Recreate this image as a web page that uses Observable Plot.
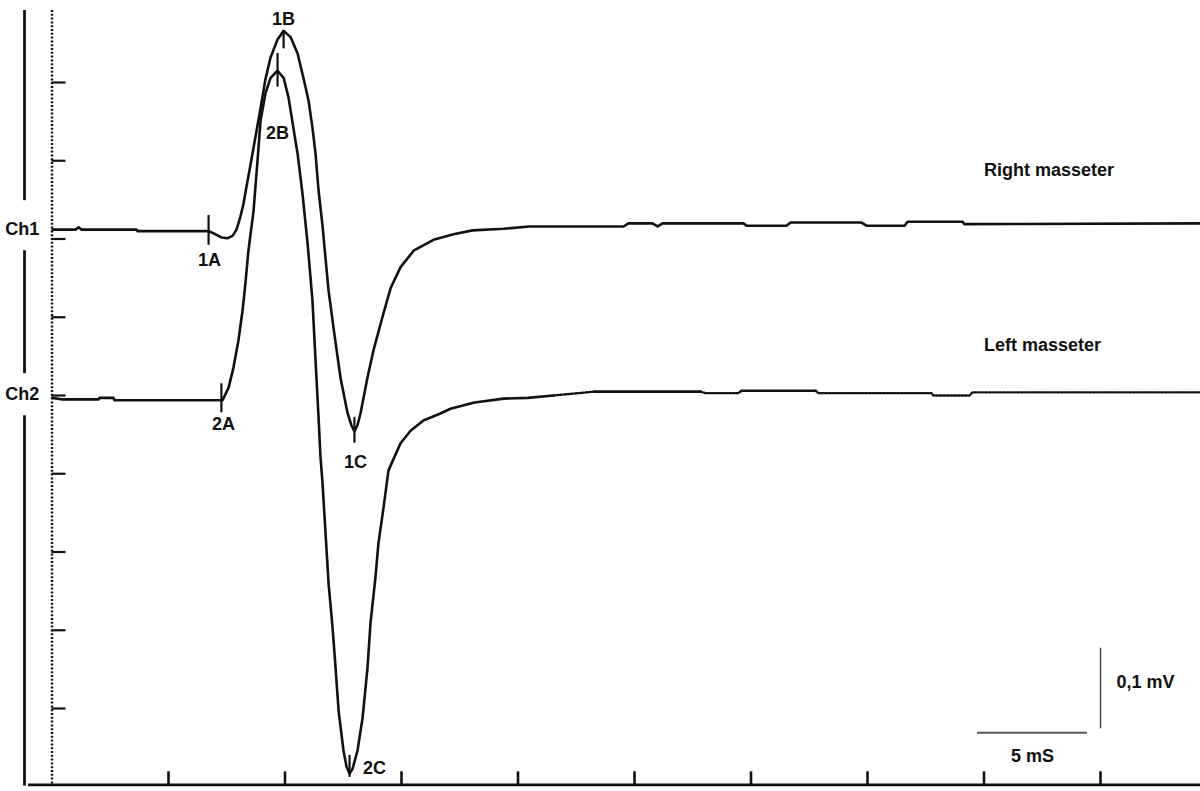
<!DOCTYPE html>
<html>
<head>
<meta charset="utf-8">
<script src="https://cdn.jsdelivr.net/npm/d3@7"></script>
<script src="https://cdn.jsdelivr.net/npm/@observablehq/plot@0.6"></script>
<style>
  html, body { margin: 0; padding: 0; background: #fff; }
  svg { display: block; }
</style>
</head>
<body>
<div id="chart"></div>
<script>
// ---------- DATA (time in ms, amplitude in mV) ----------
const channelLabels = ["Ch1", "Ch2"];
const seriesNames = ["Right masseter", "Left masseter"];

// Ch1 – Right masseter
const ch1Time = [0.02, 1.01, 1.14, 1.27, 3.63, 3.67, 6.72, 7.02, 7.27, 7.53, 7.75, 7.92, 8.09, 8.22, 8.30, 8.52, 8.73, 8.95, 9.16, 9.38, 9.68, 9.94, 10.24, 10.54, 10.79, 11.01, 11.18, 11.31, 11.44, 11.61, 11.74, 11.87, 12.08, 12.38, 12.68, 12.85, 12.98, 13.11, 13.24, 13.54, 13.80, 14.18, 14.53, 14.96, 15.52, 16.37, 17.23, 18.05, 19.38, 20.49, 24.53, 24.74, 25.77, 25.99, 26.20, 29.68, 29.81, 31.52, 31.70, 34.74, 34.96, 36.59, 36.72, 39.08, 39.16, 49.29];
const ch1Value = [0.212, 0.212, 0.215, 0.212, 0.212, 0.210, 0.210, 0.206, 0.202, 0.201, 0.204, 0.212, 0.229, 0.245, 0.259, 0.295, 0.330, 0.367, 0.404, 0.432, 0.455, 0.466, 0.458, 0.437, 0.406, 0.377, 0.342, 0.309, 0.262, 0.217, 0.175, 0.134, 0.087, 0.023, -0.022, -0.038, -0.046, -0.038, -0.023, 0.023, 0.058, 0.100, 0.137, 0.164, 0.185, 0.199, 0.206, 0.211, 0.213, 0.216, 0.216, 0.220, 0.220, 0.216, 0.220, 0.220, 0.217, 0.217, 0.221, 0.221, 0.217, 0.217, 0.222, 0.222, 0.219, 0.220];

// Ch2 – Left masseter
const ch2Time = [0.02, 0.45, 2.00, 2.04, 2.64, 2.68, 7.32, 7.58, 7.79, 8.00, 8.18, 8.30, 8.43, 8.65, 8.82, 8.95, 9.16, 9.38, 9.68, 9.94, 10.15, 10.36, 10.54, 10.75, 10.97, 11.18, 11.31, 11.44, 11.52, 11.61, 11.74, 11.87, 12.04, 12.17, 12.30, 12.51, 12.64, 12.77, 12.90, 13.11, 13.33, 13.54, 13.67, 13.88, 14.01, 14.23, 14.44, 14.66, 14.96, 15.39, 15.94, 16.67, 17.10, 18.13, 19.38, 20.41, 21.52, 23.28, 27.83, 28.05, 29.46, 29.59, 32.77, 32.90, 37.75, 37.83, 39.38, 39.51, 49.29];
const ch2Value = [-0.003, -0.005, -0.005, -0.003, -0.003, -0.006, -0.006, 0.010, 0.036, 0.070, 0.109, 0.143, 0.185, 0.236, 0.300, 0.351, 0.386, 0.406, 0.415, 0.406, 0.381, 0.342, 0.309, 0.258, 0.194, 0.121, 0.045, -0.028, -0.077, -0.112, -0.176, -0.240, -0.296, -0.348, -0.403, -0.454, -0.474, -0.483, -0.477, -0.454, -0.412, -0.348, -0.291, -0.233, -0.189, -0.143, -0.096, -0.081, -0.061, -0.045, -0.032, -0.023, -0.017, -0.009, -0.004, -0.003, 0.000, 0.005, 0.005, 0.003, 0.003, 0.006, 0.006, 0.003, 0.003, 0.000, 0.000, 0.004, 0.004];

// Event markers
const markerLabels = ["1A", "1B", "1C", "2A", "2B", "2C"];
const markerTimes  = [6.72, 9.94, 12.98, 7.27, 9.68, 12.77];
const markerValues = [0.210, 0.466, -0.046, -0.006, 0.415, -0.483];

// Axis ticks
const timeTicks = [5, 10, 15, 20, 25, 30, 35, 40, 45];
const voltTicks = [-0.4, -0.3, -0.2, -0.1, 0, 0.1, 0.2, 0.3, 0.4];

// Calibration bars
const scaleTimeLabel = "5 mS";
const scaleVoltLabel = "0,1 mV";
const scaleTimeRange = [39.72, 44.44];
const scaleVoltRange = [-0.323, -0.426];

// ---------- BUILD ----------
const ch1 = ch1Time.map((t, i) => ({t, v: ch1Value[i]}));
const ch2 = ch2Time.map((t, i) => ({t, v: ch2Value[i]}));
const markers = markerLabels.map((label, i) => ({label, t: markerTimes[i], v: markerValues[i]}));

const AXIS_V = -0.4975;      // bottom axis level
const AXIS_T = -1.18;        // left frame line
const TOP_V = 0.492;
const ink = "#111";
const font = '"Liberation Sans", Arial, Helvetica, sans-serif';

// marker tick extent (up, down) and label offset (dx, dy)
const markerStyle = {
  "1A": {up: 0.020, down: 0.018, dx: 1, dy: 29},
  "1B": {up: 0.000, down: 0.023, dx: 0, dy: -12},
  "1C": {up: 0.018, down: 0.015, dx: 1, dy: 31},
  "2A": {up: 0.021, down: 0.016, dx: 2, dy: 24},
  "2B": {up: 0.022, down: 0.021, dx: 0, dy: 62},
  "2C": {up: 0.023, down: 0.005, dx: 25, dy: -5}
};

const solidRanges = [[-5, 21.52], [23.28, 27.83], [29.59, 32.77]];
const dottedRanges = [[21.52, 23.28], [27.83, 29.59], [32.77, 60]];
const pick = r => ch2.filter(d => d.t >= r[0] - 1e-9 && d.t <= r[1] + 1e-9);

const textBase = {fill: ink, fontSize: 18, fontWeight: "bold", fontFamily: font};

const marks = [
  // frame / axes
  Plot.ruleX([{y1: TOP_V, y2: 0.249}, {y1: 0.185, y2: 0.028}, {y1: -0.026, y2: -0.499}],
    {x: () => AXIS_T, y1: "y1", y2: "y2", stroke: ink, strokeWidth: 2.8}),
  Plot.ruleX([0], {y1: TOP_V, y2: AXIS_V, stroke: ink, strokeWidth: 2.4, strokeDasharray: "2,1.8"}),
  Plot.ruleY(voltTicks, {x1: 0, x2: 0.6, stroke: ink, strokeWidth: 2.2}),
  Plot.ruleY([AXIS_V], {x1: -1.01, x2: 49.3, stroke: ink, strokeWidth: 2.8}),
  Plot.ruleX(timeTicks, {y1: AXIS_V, y2: AXIS_V + 0.0166, stroke: ink, strokeWidth: 2.6}),

  // traces
  Plot.line(ch1, {x: "t", y: "v", stroke: ink, strokeWidth: 2.6}),
  ...solidRanges.map(r => Plot.line(pick(r), {x: "t", y: "v", stroke: ink, strokeWidth: 2.6})),
  ...dottedRanges.map(r => Plot.line(pick(r), {x: "t", y: "v", stroke: ink, strokeWidth: 2.4, strokeDasharray: "1.8,1.8"})),

  // event markers
  Plot.ruleX(markers, {
    x: "t",
    y1: d => d.v + markerStyle[d.label].up,
    y2: d => d.v - markerStyle[d.label].down,
    stroke: ink, strokeWidth: 2.2
  }),
  ...markers.map(m => Plot.text([m], {
    x: "t", y: "v", text: "label",
    dx: markerStyle[m.label].dx, dy: markerStyle[m.label].dy,
    ...textBase
  })),

  // channel labels
  Plot.text([{label: channelLabels[0], v: ch1Value[0]}, {label: channelLabels[1], v: ch2Value[0] + 0.004}],
    {x: () => -1.28, y: "v", text: "label", ...textBase}),

  // series names
  Plot.text([{label: seriesNames[0], v: 0.288}, {label: seriesNames[1], v: 0.064}],
    {x: () => 40.0, y: "v", text: "label", textAnchor: "start", ...textBase}),

  // calibration bars
  Plot.ruleY([-0.431], {x1: scaleTimeRange[0], x2: scaleTimeRange[1], stroke: "#555", strokeWidth: 1.8}),
  Plot.ruleX([45.0], {y1: scaleVoltRange[0], y2: scaleVoltRange[1], stroke: "#444", strokeWidth: 1.5}),
  Plot.text([scaleTimeLabel], {x: 42.08, y: -0.461, text: d => d, ...textBase}),
  Plot.text([scaleVoltLabel], {x: 46.93, y: -0.367, text: d => d, ...textBase})
];

const chart = Plot.plot({
  width: 1200,
  height: 791,
  margin: 0,
  x: {domain: [-2.2103, 49.2918], range: [0, 1200], axis: null},
  y: {domain: [-0.50607, 0.50479], range: [791, 0], axis: null},
  style: {background: "#fff", fontFamily: font, overflow: "visible"},
  marks
});

document.getElementById("chart").appendChild(chart);
</script>
</body>
</html>
